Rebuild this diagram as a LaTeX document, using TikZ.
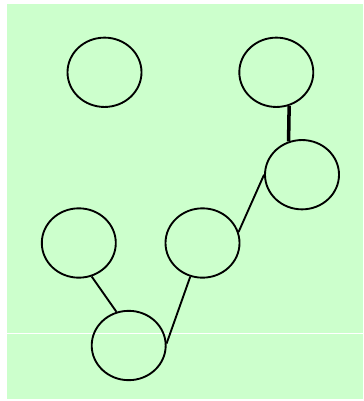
\documentclass[tikz,border=0pt]{standalone}
\definecolor{treeGreen}{RGB}{204,255,204}
\usepackage{tikz}
\usetikzlibrary{shapes.geometric}

\begin{document}
\begin{tikzpicture}[
  x=0.03cm, y=-0.03cm,
  blob/.style={draw, ellipse, line width=1.6pt, inner sep=0pt,
               minimum width=2.22cm, minimum height=2.08cm},
  link/.style={line width=1.6pt},
  boldlink/.style={line width=3pt}
]
  \useasboundingbox (0,0) rectangle (363,401);
  \fill[treeGreen] (7,4) rectangle (363,399);
  \draw[white, line width=0.8pt] (7,333) -- (363,333);

  \node[blob] (topl)  at (104.5,72.3)  {};
  \node[blob] (topr)  at (276.3,72.3)  {};
  \node[blob] (midr)  at (302,174.7)   {};
  \node[blob] (lowl)  at (78.8,243)    {};
  \node[blob] (lowc)  at (202.5,243)   {};
  \node[blob] (root)  at (128.7,345.5) {};

  \draw[boldlink] (topr.291) -- (midr.112);
  \draw[link] (midr.west) -- (lowc.17);
  \draw[link] (lowc.250) -- (root.3);
  \draw[link] (lowl.291) -- (root.110);
\end{tikzpicture}
\end{document}
